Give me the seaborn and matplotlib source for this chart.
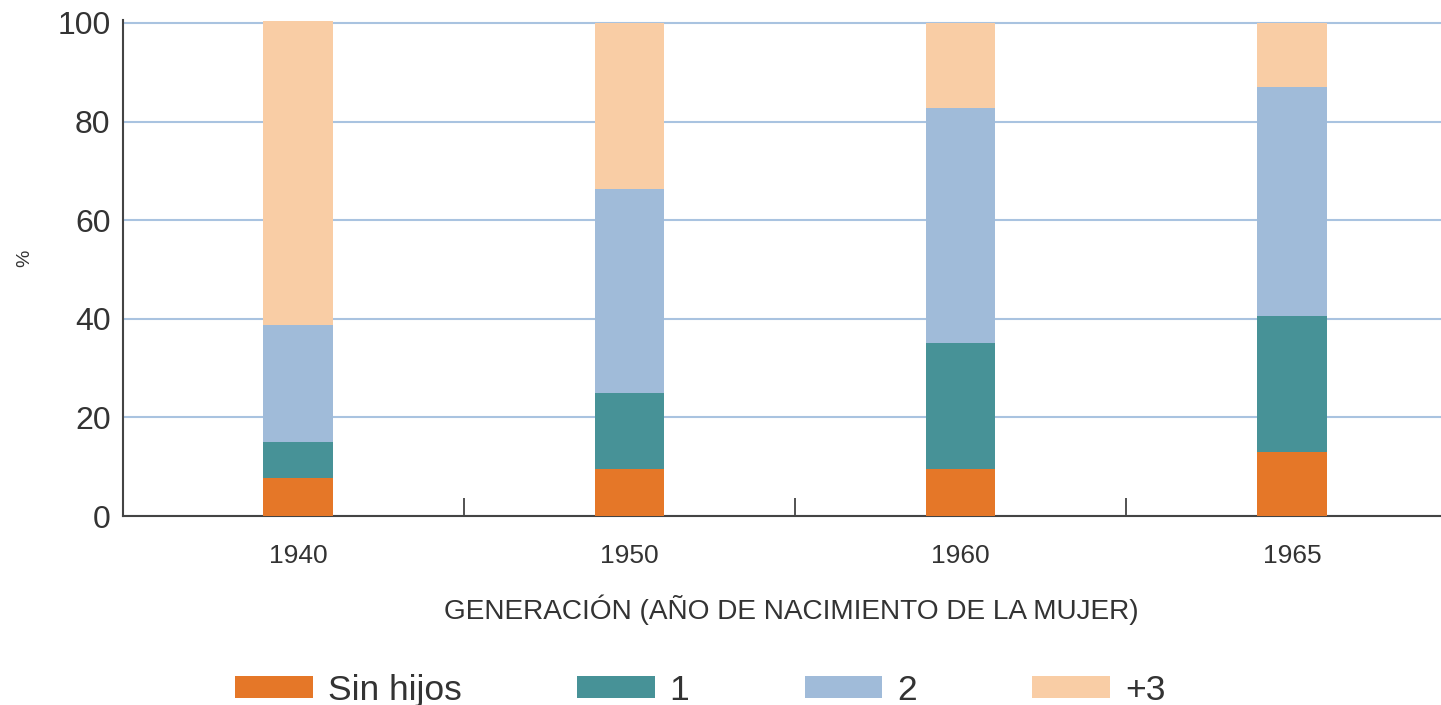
import matplotlib
matplotlib.use("Agg")
import matplotlib.pyplot as plt
from matplotlib.patches import Patch
from matplotlib.ticker import FixedLocator
import numpy as np
import pandas as pd
import seaborn as sns

# ---- data ----
generations = ["1940", "1950", "1960", "1965"]
sin_hijos = [7.8, 9.6, 9.6, 12.9]
uno = [7.3, 15.3, 25.4, 27.7]
dos = [23.7, 41.4, 47.7, 46.5]
tres_mas = [61.6, 33.7, 17.3, 12.9]

series_names = ["Sin hijos", "1", "2", "+3"]
series_values = [sin_hijos, uno, dos, tres_mas]
series_colors = ["#E57728", "#479297", "#A0BBD9", "#F9CDA5"]

sns.set_theme(style="white")
plt.rcParams["font.family"] = ["Liberation Sans", "DejaVu Sans"]

fig = plt.figure(figsize=(14.41, 7.05), dpi=100)
ax = fig.add_axes([0.0854, 0.268, 0.9146, 0.7036])

cum = np.cumsum(np.array(series_values), axis=0)
# draw from top layer down so lower layers overlay upper ones
for i in range(len(series_names) - 1, -1, -1):
    df = pd.DataFrame({"gen": generations, "val": cum[i]})
    sns.barplot(data=df, x="gen", y="val", color=series_colors[i],
                saturation=1, width=0.21, ax=ax, zorder=3,
                edgecolor="none", linewidth=0)

ax.set_xlim(-0.528, 3.45)
ax.set_ylim(0, 100.6)
ax.set_yticks([0, 20, 40, 60, 80, 100])
ax.yaxis.grid(True, color="#A9C3E0", linewidth=1.5, zorder=0)
ax.xaxis.grid(False)
ax.set_axisbelow(True)

for s in ["top", "right"]:
    ax.spines[s].set_visible(False)
for s in ["left", "bottom"]:
    ax.spines[s].set_color("#444444")
    ax.spines[s].set_linewidth(1.5)

ax.xaxis.set_minor_locator(FixedLocator([0.5, 1.5, 2.5]))
ax.tick_params(axis="x", which="minor", direction="in", length=13,
               width=1.3, color="#444444", bottom=True)
ax.tick_params(axis="x", which="major", length=0, pad=20,
               labelsize=19, labelcolor="#333333")
ax.tick_params(axis="y", which="major", length=0, pad=9,
               labelsize=23, labelcolor="#333333")

ax.set_xlabel("GENERACIÓN (AÑO DE NACIMIENTO DE LA MUJER)",
              fontsize=20.2, color="#333333", labelpad=19)
ax.xaxis.label.set_x(0.507)
ax.set_ylabel("%", fontsize=14, color="#333333", rotation=90)
ax.yaxis.set_label_coords(-0.068, 0.52)

handles = [Patch(facecolor=c, edgecolor="none") for c in series_colors]
fig.legend(handles, series_names, loc="center", bbox_to_anchor=(0.486, 0.021),
           ncol=4, frameon=False, fontsize=25.5, handlelength=2.2,
           handleheight=0.6, handletextpad=0.42, columnspacing=3.25,
           labelcolor="#333333")

fig.savefig("out.png", dpi=100)
